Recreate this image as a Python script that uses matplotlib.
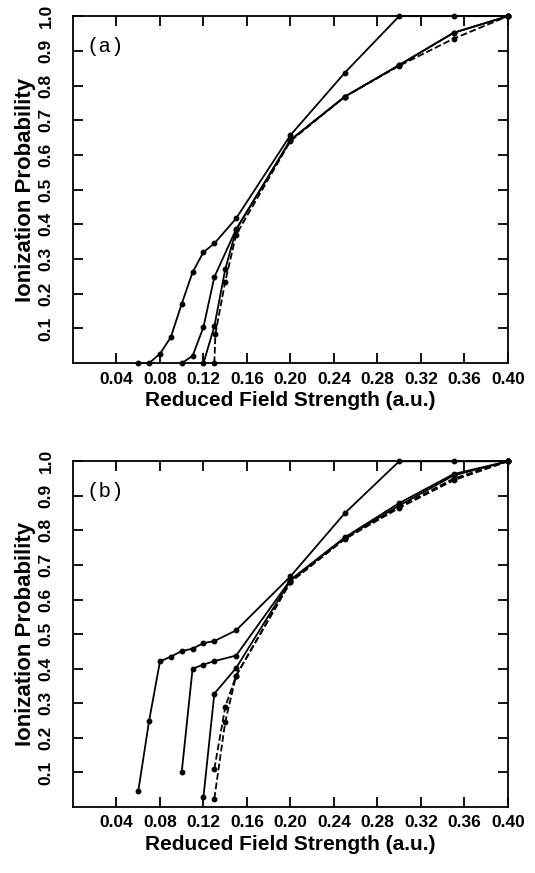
import matplotlib
matplotlib.use("Agg")
import matplotlib.pyplot as plt

# panel (a)
xa1 = [0.06, 0.07, 0.08, 0.09, 0.10, 0.11, 0.12, 0.13, 0.15, 0.20, 0.25, 0.30, 0.35, 0.40]
ya1 = [0.0, 0.0, 0.027, 0.075, 0.171, 0.262, 0.32, 0.345, 0.417, 0.657, 0.837, 1.0, 1.0, 1.0]
xa2 = [0.10, 0.11, 0.12, 0.13, 0.15, 0.20, 0.25, 0.30, 0.35, 0.40]
ya2 = [0.0, 0.021, 0.104, 0.248, 0.386, 0.643, 0.768, 0.859, 0.952, 1.0]
xa3 = [0.12, 0.13, 0.14, 0.15, 0.20, 0.25, 0.30, 0.35, 0.40]
ya3 = [0.0, 0.106, 0.27, 0.384, 0.643, 0.768, 0.859, 0.952, 1.0]
xa4 = [0.13, 0.131, 0.14, 0.15, 0.20, 0.25, 0.30, 0.35, 0.40]
ya4 = [0.0, 0.085, 0.235, 0.37, 0.64, 0.768, 0.857, 0.935, 1.0]

# panel (b)
xb1 = [0.06, 0.07, 0.08, 0.09, 0.10, 0.11, 0.12, 0.13, 0.15, 0.20, 0.25, 0.30, 0.35, 0.40]
yb1 = [0.045, 0.249, 0.421, 0.435, 0.451, 0.458, 0.474, 0.48, 0.511, 0.667, 0.85, 1.0, 1.0, 1.0]
xb2 = [0.10, 0.11, 0.12, 0.13, 0.15, 0.20, 0.25, 0.30, 0.35, 0.40]
yb2 = [0.101, 0.40, 0.412, 0.422, 0.438, 0.657, 0.78, 0.879, 0.963, 1.0]
xb3 = [0.12, 0.13, 0.15, 0.20, 0.25, 0.30, 0.35, 0.40]
yb3 = [0.029, 0.328, 0.402, 0.655, 0.778, 0.872, 0.959, 1.0]
xb4 = [0.13, 0.14, 0.15, 0.20, 0.25, 0.30, 0.35, 0.40]
yb4 = [0.024, 0.246, 0.38, 0.65, 0.775, 0.865, 0.945, 1.0]
xb5 = [0.13, 0.14, 0.15, 0.20, 0.25, 0.30, 0.35, 0.40]
yb5 = [0.11, 0.289, 0.38, 0.652, 0.777, 0.868, 0.95, 1.0]

xticks = [0.04, 0.08, 0.12, 0.16, 0.20, 0.24, 0.28, 0.32, 0.36, 0.40]
xticklabels = ["0.04", "0.08", "0.12", "0.16", "0.20", "0.24", "0.28", "0.32", "0.36", "0.40"]
yticks = [0.1, 0.2, 0.3, 0.4, 0.5, 0.6, 0.7, 0.8, 0.9, 1.0]
yticklabels = ["0.1", "0.2", "0.3", "0.4", "0.5", "0.6", "0.7", "0.8", "0.9", "1.0"]

LABEL_FONT = ["Liberation Sans", "DejaVu Sans"]

fig = plt.figure(figsize=(5.35, 8.73), dpi=100)
ax_a = fig.add_axes([0.1364, 0.584, 0.813, 0.3975])
ax_b = fig.add_axes([0.1364, 0.0756, 0.813, 0.396])

panels = [
    (ax_a, "(a)", [(xa1, ya1, "-"), (xa2, ya2, "-"), (xa3, ya3, "-"), (xa4, ya4, "--")]),
    (ax_b, "(b)", [(xb1, yb1, "-"), (xb2, yb2, "-"), (xb3, yb3, "-"),
                   (xb4, yb4, "--"), (xb5, yb5, "--")]),
]

for ax, tag, curves in panels:
    for x, y, ls in curves:
        ax.plot(x, y, ls, color="black", lw=1.3, marker="o", ms=3.2,
                clip_on=False, zorder=3)
    ax.set_xlim(0.0, 0.40)
    ax.set_ylim(0.0, 1.0)
    ax.set_xticks(xticks)
    ax.set_xticklabels(xticklabels, family=LABEL_FONT, fontweight="bold", fontsize=12.5)
    ax.set_yticks(yticks)
    ax.set_yticklabels(yticklabels, family=LABEL_FONT, fontweight="bold", fontsize=12.5,
                       rotation=90, va="center")
    ax.tick_params(direction="in", length=7, width=1.3, top=True, right=True)
    ax.tick_params(axis="x", pad=6)
    ax.tick_params(axis="y", pad=14)
    for sp in ax.spines.values():
        sp.set_linewidth(1.3)
    ax.set_xlabel("Reduced Field Strength (a.u.)", family=LABEL_FONT,
                  fontweight="bold", fontsize=15, labelpad=3)
    ax.set_ylabel("Ionization Probability", family=LABEL_FONT,
                  fontweight="bold", fontsize=16, labelpad=2)
    ax.text(0.03, 0.94, tag, transform=ax.transAxes, ha="left", va="top",
            family=["Liberation Mono", "DejaVu Sans Mono"], fontsize=15)

fig.savefig("out.png", dpi=100)
